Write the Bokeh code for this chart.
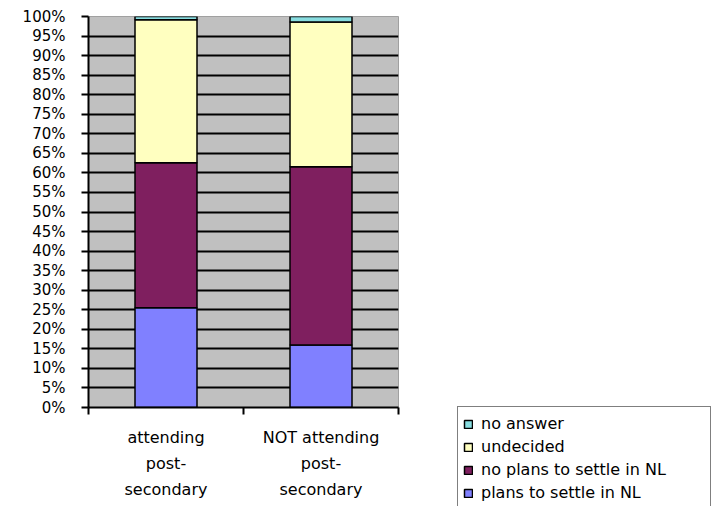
from bokeh.plotting import figure
from bokeh.models import (FixedTicker, PrintfTickFormatter, Legend, LegendItem,
                          ColumnDataSource, Range1d)
from bokeh.embed import file_html
from bokeh.resources import INLINE

categories = ["attending\npost-\nsecondary", "NOT attending\npost-\nsecondary"]
series = ["plans to settle in NL", "no plans to settle in NL", "undecided", "no answer"]
plans = [25.5, 16.0]
no_plans = [37.1, 45.6]
undecided = [36.6, 37.0]
no_answer = [0.8, 1.4]
colors = ["#8080ff", "#7f1f5f", "#ffffc0", "#88dde0"]
y_ticks = list(range(0, 101, 5))
grid_ticks = list(range(5, 100, 5))

x = [i + 0.5 for i in range(len(categories))]
source = ColumnDataSource(dict(x=x, plans=plans, no_plans=no_plans,
                               undecided=undecided, no_answer=no_answer))

p = figure(frame_width=310, frame_height=391, x_range=Range1d(0, len(categories)),
           y_range=Range1d(0, 100), output_backend="svg", toolbar_location=None,
           min_border_left=88, min_border_top=16, min_border_right=0,
           min_border_bottom=99)
p.background_fill_color = "#c0c0c0"
p.border_fill_color = "white"
p.outline_line_color = "#a0a0a0"
p.outline_line_width = 1

renderers = p.vbar_stack(["plans", "no_plans", "undecided", "no_answer"], x="x",
                         width=0.4, fill_color=colors, line_color="black",
                         line_width=1.5, source=source)

# y axis
p.yaxis.ticker = FixedTicker(ticks=y_ticks)
p.yaxis.formatter = PrintfTickFormatter(format="%d%%")
p.yaxis.major_tick_out = 7
p.yaxis.major_tick_in = 0
p.yaxis.major_tick_line_width = 2
p.yaxis.major_tick_line_color = "black"
p.yaxis.axis_line_width = 2
p.yaxis.axis_line_color = "black"
p.yaxis.major_label_text_font = "DejaVu Sans"
p.yaxis.major_label_text_font_size = "15px"
p.yaxis.major_label_text_color = "black"
p.yaxis.major_label_standoff = 16

# x axis
p.xaxis.ticker = FixedTicker(ticks=x, minor_ticks=list(range(len(categories) + 1)))
p.xaxis.major_label_overrides = {x[i]: categories[i] for i in range(len(categories))}
p.xaxis.major_tick_out = 0
p.xaxis.major_tick_in = 0
p.xaxis.minor_tick_out = 7
p.xaxis.minor_tick_in = 0
p.xaxis.minor_tick_line_width = 2
p.xaxis.minor_tick_line_color = "black"
p.xaxis.axis_line_width = 2
p.xaxis.axis_line_color = "black"
p.xaxis.major_label_text_font = "DejaVu Sans"
p.xaxis.major_label_text_font_size = "16px"
p.xaxis.major_label_text_color = "black"
p.xaxis.major_label_text_line_height = 1.39
p.xaxis.major_label_standoff = 13

# grid
p.xgrid.visible = False
p.ygrid.ticker = FixedTicker(ticks=grid_ticks)
p.ygrid.grid_line_color = "black"
p.ygrid.grid_line_width = 2
p.ygrid.grid_line_alpha = 1

# legend
items = [LegendItem(label=series[i], renderers=[renderers[i]])
         for i in reversed(range(len(series)))]
legend = Legend(items=items, location=(59, -103), label_text_font="DejaVu Sans",
                label_text_font_size="16px", label_text_color="black",
                glyph_width=10, glyph_height=10,
                label_height=23, label_width=224, spacing=0, padding=5, margin=0,
                label_standoff=8, border_line_color="black", border_line_width=1,
                background_fill_color="white", background_fill_alpha=1)
p.add_layout(legend, "right")

open("out.html", "w").write(file_html(p, INLINE))
